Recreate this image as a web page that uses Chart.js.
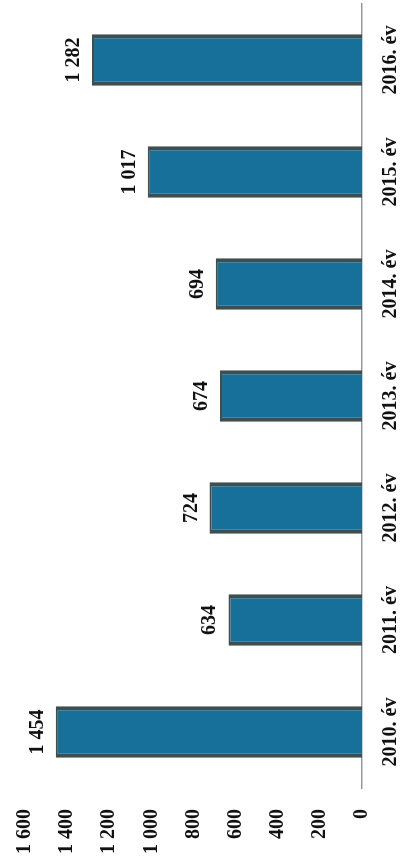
<!DOCTYPE html>
<html>
<head>
<meta charset="utf-8">
<script src="https://cdn.jsdelivr.net/npm/chart.js@4.4.0/dist/chart.umd.min.js"></script>
<style>
    html, body { margin: 0; padding: 0; background: #fff; }
    body { width: 406px; height: 866px; overflow: hidden; position: relative; }
    #wrap {
        position: absolute; left: 0; top: 866px;
        width: 866px; height: 406px;
        transform-origin: 0 0;
        transform: rotate(-90deg);
    }
</style>
</head>
<body>
<div id="wrap"><canvas id="chart" width="866" height="406"></canvas></div>
<script>
const years = ['2010. év', '2011. év', '2012. év', '2013. év', '2014. év', '2015. év', '2016. év'];
const values = [1454, 634, 724, 674, 694, 1017, 1282];
const tickStep = 200;
const tickMax = 1600;

function fmt(n) {
    return String(n).replace(/\B(?=(\d{3})+(?!\d))/g, ' ');
}

const labelFont = { family: 'Liberation Serif', weight: 'bold', size: 20 };

// value labels above the bars
const valueLabels = {
    id: 'valueLabels',
    afterDatasetsDraw(chart) {
        const ctx = chart.ctx;
        const meta = chart.getDatasetMeta(0);
        ctx.save();
        ctx.font = 'bold 20px "Liberation Serif"';
        ctx.fillStyle = '#111';
        ctx.textAlign = 'center';
        ctx.textBaseline = 'alphabetic';
        meta.data.forEach((bar, i) => {
            ctx.fillText(fmt(values[i]), bar.x, bar.y - 13);
        });
        ctx.restore();
    }
};

new Chart(document.getElementById('chart'), {
    type: 'bar',
    data: {
        labels: years,
        datasets: [{
            data: values,
            backgroundColor: '#17709a',
            borderColor: '#3f4f50',
            borderWidth: { left: 4, right: 4, top: 2, bottom: 0 },
            borderSkipped: false,
            barPercentage: 0.46,
            categoryPercentage: 1
        }]
    },
    options: {
        responsive: false,
        animation: false,
        events: [],
        layout: { padding: { top: 25, right: 4, left: 0, bottom: 0 } },
        plugins: { legend: { display: false }, tooltip: { enabled: false } },
        scales: {
            x: {
                grid: { display: false, drawTicks: false },
                border: { display: true, color: '#999', width: 1.5 },
                ticks: { color: '#111', font: labelFont, padding: 17, maxRotation: 0 },
                afterFit(scale) { scale.height = 44; }
            },
            y: {
                min: 0,
                max: tickMax,
                grid: { display: false, drawTicks: true, tickLength: 17 },
                border: { display: false },
                ticks: {
                    stepSize: tickStep,
                    color: '#111',
                    font: labelFont,
                    padding: 4,
                    callback: v => fmt(v)
                },
                afterFit(scale) { scale.width = 78; }
            }
        }
    },
    plugins: [valueLabels]
});
</script>
</body>
</html>
